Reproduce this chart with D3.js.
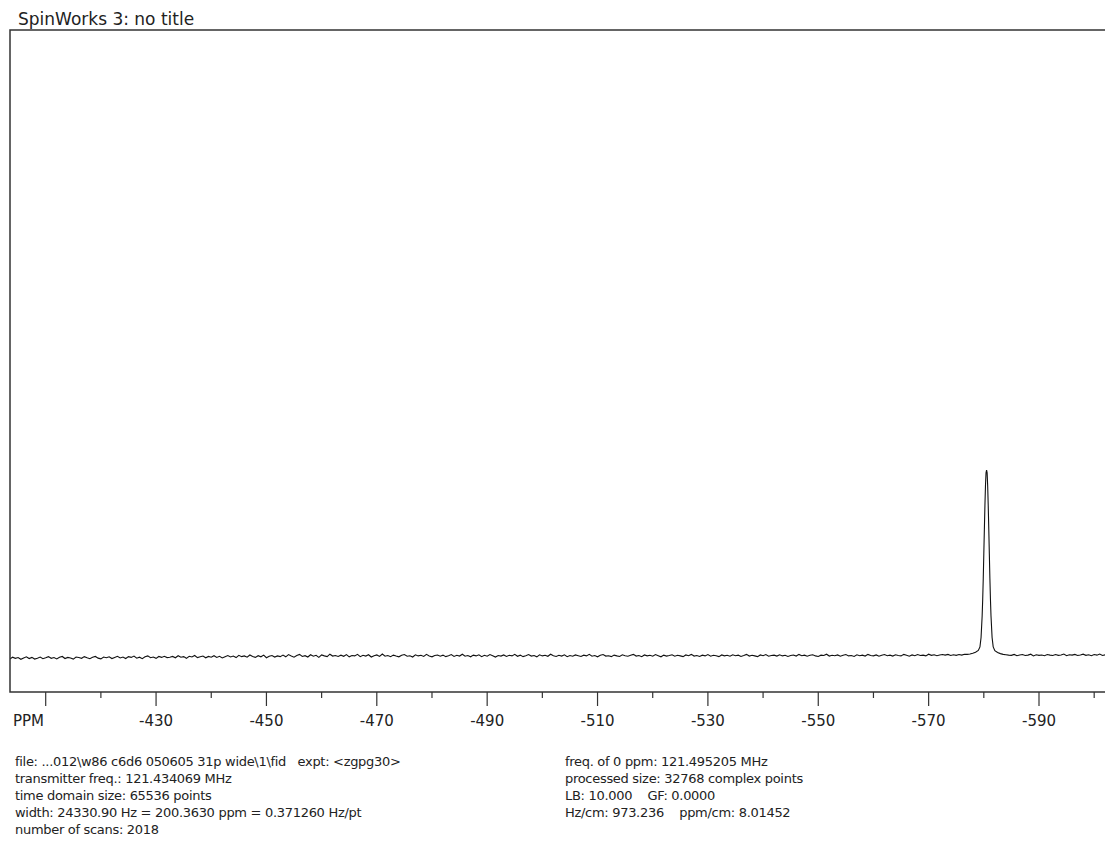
<!DOCTYPE html>
<html>
<head>
<meta charset="utf-8">
<script src="https://cdn.jsdelivr.net/npm/d3@7"></script>
<style>
    body { margin: 0; background: #fff; }
    svg { display: block; }
</style>
</head>
<body>
<script>
let width = 1105;
let height = 846;

// baseline (noise) read at 0.5 ppm steps, starting at -403 ppm
let baseStart = -403;
let baseStep = -0.5;
let baseline = [
    0.2,-0.4,0.5,-0.1,0.3,-0.6,0.1,0.7,-0.2,0.4,-0.5,0.0,0.6,-0.3,0.2,0.8,-0.1,0.3,-0.4,0.5,
    0.9,-0.2,0.4,0.1,-0.5,0.6,0.3,-0.1,0.8,0.2,-0.3,0.5,0.9,0.0,-0.4,0.6,0.2,0.7,-0.2,0.4,
    1.0,0.1,0.6,-0.2,0.8,0.4,1.1,0.0,0.5,-0.3,0.7,1.2,0.2,0.6,-0.1,0.9,0.4,1.0,0.3,0.5,
    0.9,0.2,1.3,0.5,0.8,-0.1,1.0,0.6,1.4,0.3,0.7,1.1,0.2,0.9,0.5,1.3,0.4,1.0,0.1,0.8,
    1.4,0.6,1.1,0.3,1.5,0.8,1.2,0.5,1.7,0.9,0.4,1.3,0.7,1.6,0.2,1.0,1.4,0.6,1.2,0.8,
    1.6,0.7,1.9,1.1,0.5,1.4,2.0,0.9,1.3,0.6,1.8,1.0,1.5,0.4,1.7,1.2,0.8,2.1,1.1,1.4,
    0.9,1.6,1.0,1.9,0.7,1.4,1.2,2.0,0.8,1.5,1.1,1.8,0.6,1.3,1.7,0.9,2.2,1.0,1.4,0.8,
    1.6,1.1,0.7,1.5,1.9,1.0,1.3,0.6,1.8,1.2,1.5,0.9,2.0,1.1,0.7,1.4,1.7,1.0,1.6,0.8,
    1.3,1.9,0.9,1.5,1.1,2.1,1.0,1.4,0.7,1.6,1.2,1.8,0.8,1.5,1.0,1.9,1.3,0.6,1.4,1.1,
    1.7,0.9,1.5,1.2,2.0,1.0,1.6,0.8,1.3,1.9,1.1,1.4,0.7,1.8,1.2,1.5,1.0,2.1,1.3,0.9,
    1.5,1.1,1.8,0.8,1.4,1.0,1.7,1.3,0.9,1.6,1.2,2.0,1.0,1.4,0.7,1.5,1.9,1.1,1.3,0.8,
    1.6,1.2,0.9,1.8,1.3,1.0,1.5,2.0,1.1,1.4,0.8,1.7,1.2,1.5,1.0,1.9,1.3,0.7,1.6,1.1,
    1.4,1.8,1.0,1.5,1.2,0.8,1.7,1.3,2.0,1.1,1.4,0.9,1.6,1.2,1.9,1.0,1.5,1.3,0.8,1.7,
    1.2,1.5,1.0,1.8,1.3,1.6,0.9,1.4,2.0,1.1,1.5,1.2,0.8,1.7,1.3,1.9,1.0,1.4,1.6,1.1,
    1.8,1.2,1.5,0.9,1.4,1.7,1.1,2.0,1.3,1.6,1.0,1.5,1.8,1.2,0.9,1.6,1.4,2.1,1.1,1.5,
    1.3,1.7,1.0,1.5,1.9,1.2,1.4,0.9,1.8,1.3,1.6,1.1,2.0,1.4,1.2,1.7,1.0,1.5,1.9,1.3,
    1.6,1.1,1.8,1.4,1.2,2.0,1.5,1.0,1.7,1.3,1.9,1.4,1.6,1.2,2.1,1.5,1.8,1.3,1.7,1.9,
    1.6,2.0,1.4,1.8,1.5,1.9,1.6,2.1,1.5,1.8,1.4,1.7,1.5,1.9,1.6,1.8,1.4,2.0,1.5,1.7,
    1.8,1.4,1.9,1.6,1.5,2.0,1.3,1.7,1.9,1.4,1.6,2.1,1.2,1.8,1.5,1.7,1.3,1.9,1.6,1.4,
    1.9,1.5,1.7,2.2,1.3,1.8,1.6,2.0,1.4,1.7,2.1,1.5,1.8,1.3,1.9,1.6,2.2,1.4,1.8,1.7
];

// the single resonance near -580.5 ppm
let peakPpm = [-577.0, -577.5, -578.0, -578.5, -579.0, -579.3, -579.5, -579.7, -579.8, -579.9,
    -580.0, -580.1, -580.2, -580.3, -580.4, -580.5, -580.6, -580.7, -580.8, -580.9,
    -581.0, -581.1, -581.2, -581.3, -581.5, -581.7, -582.0, -582.5, -583.0, -583.5, -584.0];
let peakVal = [2.0, 2.2, 2.6, 3.1, 4.1, 6.0, 11, 22.5, 31.5, 42.5,
    55.5, 68.5, 81, 91.5, 98.5, 100, 98.5, 91.5, 81, 68.5,
    55.5, 42.5, 31.5, 22.5, 11, 6.0, 4.0, 3.0, 2.4, 2.0, 1.8];

let majorTicks = [-410, -430, -450, -470, -490, -510, -530, -550, -570, -590];
let minorTicks = [-420, -440, -460, -480, -500, -520, -540, -560, -580, -600];
let tickLabels = ['PPM', '-430', '-450', '-470', '-490', '-510', '-530', '-550', '-570', '-590'];

let infoLeft = [
    'file: ...012\\w86 c6d6 050605 31p wide\\1\\fid   expt: <zgpg30>',
    'transmitter freq.: 121.434069 MHz',
    'time domain size: 65536 points',
    'width: 24330.90 Hz = 200.3630 ppm = 0.371260 Hz/pt',
    'number of scans: 2018'
];
let infoRight = [
    'freq. of 0 ppm: 121.495205 MHz',
    'processed size: 32768 complex points',
    'LB: 10.000    GF: 0.0000',
    'Hz/cm: 973.236    ppm/cm: 8.01452'
];

let frameLeft = 10, frameTop = 30, frameBottom = 692;

let x = d3.scaleLinear()
    .domain([-410, -590])
    .range([45.7, 1039]);

let y = d3.scaleLinear()
    .domain([-18, 334])
    .range([frameBottom, frameTop]);

let svg = d3.select("body").append("svg")
    .attr("width", width)
    .attr("height", height)
    .style("font-family", "'DejaVu Sans', Verdana, sans-serif");

svg.append("text")
    .attr("x", 18)
    .attr("y", 25)
    .style("font-size", "17px")
    .style("fill", "#222")
    .text("SpinWorks 3: no title");

svg.append("clipPath").attr("id", "clip")
    .append("rect")
    .attr("x", frameLeft)
    .attr("y", frameTop)
    .attr("width", width - frameLeft)
    .attr("height", frameBottom - frameTop);

// merge baseline and peak
let points = baseline.map((v, i) => [baseStart + i * baseStep, v])
    .filter(d => d[0] > -577 || d[0] < -584);
peakPpm.forEach((p, i) => points.push([p, peakVal[i]]));
points.sort((a, b) => b[0] - a[0]);

let line = d3.line()
    .x(d => x(d[0]))
    .y(d => y(d[1]));

svg.append("path")
    .datum(points)
    .attr("clip-path", "url(#clip)")
    .attr("d", line)
    .style("fill", "none")
    .style("stroke", "#111")
    .style("stroke-width", 1.1);

// frame: left, top, bottom
svg.append("path")
    .attr("d", `M${width},${frameTop}H${frameLeft}V${frameBottom}H${width}`)
    .style("fill", "none")
    .style("stroke", "#333")
    .style("stroke-width", 1.5);

let axis = svg.append("g");

axis.selectAll("line.major")
    .data(majorTicks)
    .enter()
    .append("line")
    .attr("class", "major")
    .attr("x1", d => x(d))
    .attr("x2", d => x(d))
    .attr("y1", frameBottom)
    .attr("y2", frameBottom + 14)
    .style("stroke", "#333")
    .style("stroke-width", 1.2);

axis.selectAll("line.minor")
    .data(minorTicks)
    .enter()
    .append("line")
    .attr("class", "minor")
    .attr("x1", d => x(d))
    .attr("x2", d => x(d))
    .attr("y1", frameBottom)
    .attr("y2", frameBottom + 6)
    .style("stroke", "#333")
    .style("stroke-width", 1.2);

axis.selectAll("text")
    .data(majorTicks)
    .enter()
    .append("text")
    .attr("x", (d, i) => i == 0 ? 13 : x(d))
    .attr("y", 726)
    .attr("text-anchor", (d, i) => i == 0 ? "start" : "middle")
    .style("font-size", "15px")
    .style("fill", "#222")
    .text((d, i) => tickLabels[i]);

let info = svg.append("g")
    .style("font-size", "13px")
    .style("letter-spacing", "-0.3px")
    .style("fill", "#222");

info.selectAll("text.left")
    .data(infoLeft)
    .enter()
    .append("text")
    .attr("class", "left")
    .attr("x", 15)
    .attr("y", (d, i) => 766 + i * 17)
    .style("white-space", "pre")
    .text(d => d);

info.selectAll("text.right")
    .data(infoRight)
    .enter()
    .append("text")
    .attr("class", "right")
    .attr("x", 565)
    .attr("y", (d, i) => 766 + i * 17)
    .style("white-space", "pre")
    .text(d => d);
</script>
</body>
</html>
